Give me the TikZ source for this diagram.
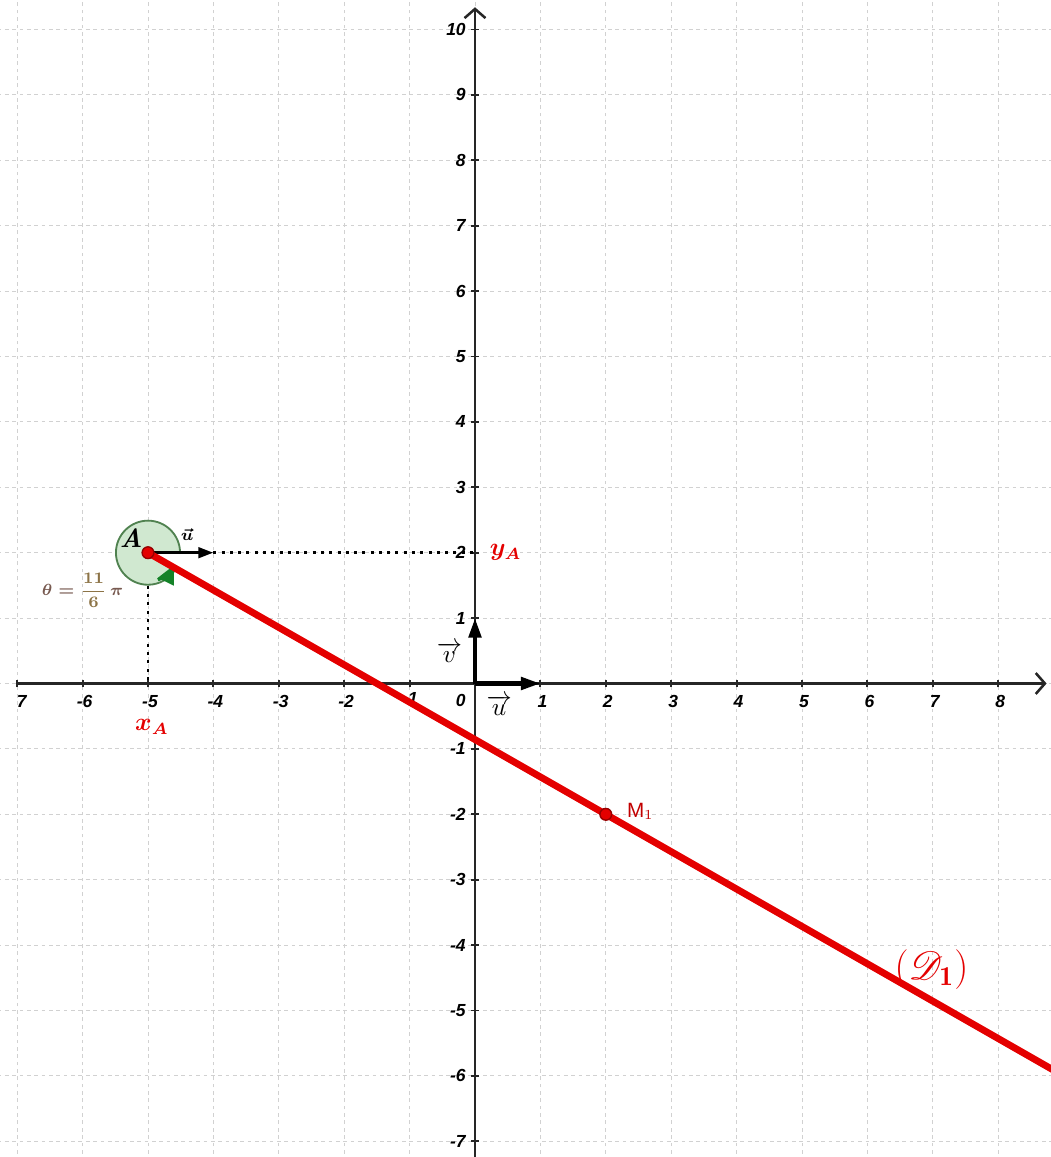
\documentclass[tikz,border=0pt]{standalone}
\usepackage{fontspec}
\usepackage{amsmath}
\usepackage{mathrsfs}
\usepackage{xcolor}
\usepackage{tikz}
\usetikzlibrary{arrows.meta, calc}
\newfontfamily\geofont{Liberation Sans}
\definecolor{rougegeo}{RGB}{228, 0, 0}
\definecolor{rougefonce}{RGB}{150, 0, 0}
\definecolor{vertclair}{RGB}{208, 232, 208}
\definecolor{vertbord}{RGB}{80, 130, 80}
\definecolor{vertfleche}{RGB}{20, 130, 40}
\definecolor{brunangle}{RGB}{120, 90, 80}
\definecolor{olive}{RGB}{140, 115, 70}

\begin{document}
\begin{tikzpicture}[
    grille/.style={black!18, line width=0.4pt, dash pattern=on 1.6pt off 1.6pt},
    axe/.style={black!85, line width=1.3pt,
                -{Straight Barb[length=1.4mm, width=3.2mm, line width=1.1pt]}},
    graduation/.style={font=\geofont\bfseries\itshape\fontsize{7.6}{8}\selectfont,
                       inner sep=1pt},
    vecteur/.style={black, line width=1.8pt,
                    -{Triangle[length=3mm, width=1.9mm]}},
    nomvect/.style={font=\fontsize{10.5}{11}\selectfont, inner sep=0pt},
    pointille/.style={black, line width=1.3pt, dash pattern=on 1.3pt off 2.3pt},
    droite/.style={rougegeo, line width=3pt},
    point/.style={fill=rougegeo, draw=rougefonce, line width=0.6pt},
    nomrouge/.style={rougegeo, font=\fontsize{10.5}{12}\selectfont\boldmath}
  ]
    \useasboundingbox (-7.263,-7.240) rectangle (8.807,10.451);
    \clip (-7.263,-7.240) rectangle (8.807,10.451);
    \coordinate (O) at (0,0);
    \coordinate (A) at (-5,2);
    \coordinate (M1) at (2,-2);
    % quadrillage et axes
    \foreach \x in {-7,...,8} \draw[grille] (\x,-7.3) -- (\x,10.5);
    \foreach \y in {-7,...,10} \draw[grille] (-7.3,\y) -- (8.9,\y);
    \draw[axe] (-7,0) -- (8.74,0);
    \draw[axe] (0,-7.3) -- (0,10.34);
    \foreach \x in {-7,...,8} \draw[black!85, line width=0.8pt] (\x,-0.06) -- (\x,0.06);
    \foreach \y in {-7,...,10} \draw[black!85, line width=0.8pt] (-0.06,\y) -- (0.06,\y);
    \foreach \x in {-6,-5,-4,-3,-2,1,2,...,8}
      \node[graduation] at (\x+0.03,-0.28) {\x};
    \node[graduation] at (-6.93,-0.28) {7};
    \node[graduation] at (-0.95,-0.23) {1};
    \node[graduation] at (-0.22,-0.26) {0};
    \foreach \y in {-7,...,-1,1,2,...,10}
      \node[graduation, anchor=east] at (-0.1,\y) {\y};
    % repere (O; u, v)
    \draw[vecteur] (O) -- (1,0);
    \draw[vecteur] (O) -- (0,1);
    \node[nomvect] at (0.37,-0.33) {$\overrightarrow{u}$};
    \node[nomvect] at (-0.39,0.47) {$\overrightarrow{v}$};
    % projections de A
    \draw[pointille] (-4,2) -- (0,2);
    \draw[pointille] (A) -- (-5,0);
    % angle theta = 11pi/6
    \filldraw[fill=vertclair, draw=vertbord, line width=0.8pt]
      (A) -- ++(0:0.49) arc[start angle=0, end angle=330, radius=0.49] -- cycle;
    \draw[vertfleche, line width=1.4pt, -{Triangle[length=2.8mm, width=2.6mm]}]
      ($(A)+(290:0.44)$) arc[start angle=290, end angle=334, radius=0.44];
    \draw[black, line width=1.3pt, -{Triangle[length=2.3mm, width=1.6mm]}] (A) -- (-4,2);
    \node[font=\fontsize{7}{8}\selectfont\boldmath] at (-4.4,2.27) {$\vec{u}$};
    % droite (D1)
    \draw[droite] (A) -- ($(A)!2!(M1)$);
    \filldraw[point] (A) circle (0.09);
    \filldraw[point] (M1) circle (0.09);
    \node[font=\fontsize{11.5}{12}\selectfont] at (-5.26,2.22) {\textbf{\textit{A}}};
    \node[font=\fontsize{7.5}{8}\selectfont\boldmath] at (-6.0,1.43)
      {$\color{brunangle}\theta=\color{olive}\dfrac{11}{6}\,\color{brunangle}\pi$};
    \node[nomrouge] at (0.47,2.0) {$y_A$};
    \node[nomrouge] at (-4.94,-0.66) {$x_A$};
    \node[anchor=west, rougegeo!85!black, font=\geofont\fontsize{9}{10}\selectfont]
      at (2.2,-1.95) {M$_1$};
    \node[rougegeo, font=\fontsize{17}{19}\selectfont] at (6.98,-4.38) {$(\mathscr{D}_{\mathbf{1}})$};
\end{tikzpicture}
\end{document}
